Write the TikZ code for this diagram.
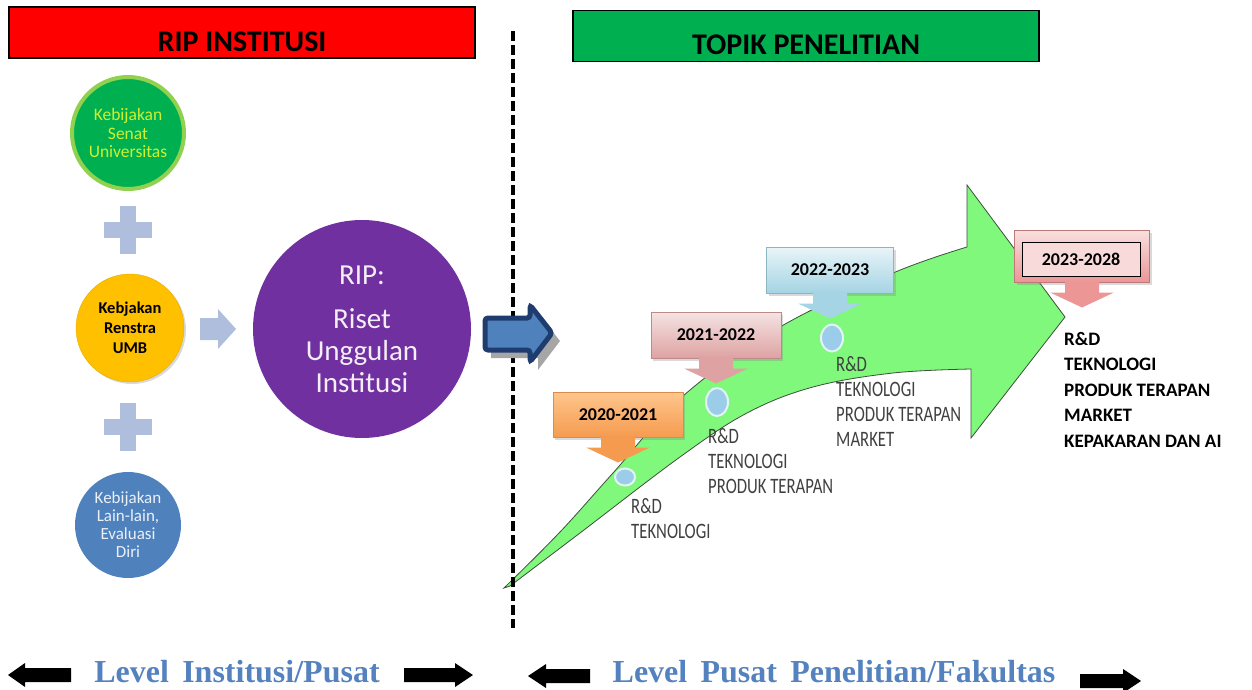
\documentclass[tikz,border=0pt]{standalone}
\usepackage{fontspec}
\setmainfont{Carlito}
\newfontfamily\condfont[FakeStretch=0.76]{Carlito}
\newfontfamily\levelfont{Liberation Serif}
\usetikzlibrary{positioning,calc,shapes.geometric,shadows}

\definecolor{ripred}{RGB}{255,0,0}
\definecolor{topikgreen}{RGB}{0,176,80}
\definecolor{senatgreen}{RGB}{0,176,80}
\definecolor{senatrim}{RGB}{146,208,80}
\definecolor{senattext}{RGB}{205,240,50}
\definecolor{renstra}{RGB}{255,192,0}
\definecolor{lainblue}{RGB}{79,129,189}
\definecolor{ripviolet}{RGB}{112,48,160}
\definecolor{plusblue}{RGB}{175,190,220}
\definecolor{navy}{RGB}{31,60,110}
\definecolor{bandgreen}{RGB}{128,248,124}
\definecolor{bandline}{RGB}{60,80,60}
\definecolor{dotblue}{RGB}{155,205,235}
\definecolor{dotrim}{RGB}{225,245,245}
\definecolor{topicgray}{RGB}{64,64,64}
\definecolor{levelblue}{RGB}{84,130,190}
\definecolor{arrorange}{RGB}{245,155,80}
\definecolor{arrpink}{RGB}{222,162,162}
\definecolor{arrblue}{RGB}{165,212,228}
\definecolor{arrred}{RGB}{236,150,150}

\begin{document}
\begin{tikzpicture}[x=1pt,y=-1pt,
    headbox/.style={rectangle,draw=black,line width=1.5pt,minimum width=466pt,minimum height=51pt,
      font=\fontsize{30}{36}\selectfont\bfseries,text height=40pt,text depth=2pt},
    policy/.style={circle,inner sep=0pt,align=center,font=\fontsize{17.5}{18.5}\selectfont},
    yearbox/.style={rectangle,line width=1pt,font=\fontsize{18}{20}\selectfont\bfseries,
      drop shadow={shadow xshift=2pt,shadow yshift=-3pt,opacity=.3}},
    dot/.style={ellipse,inner sep=0pt,fill=dotblue,draw=dotrim,line width=2pt},
    topic/.style={anchor=north west,inner sep=0pt,align=left,text=topicgray,
      font=\condfont\fontsize{22}{25}\selectfont},
    goal/.style={anchor=north west,inner sep=0pt,align=left,
      font=\fontsize{19}{25.5}\selectfont\bfseries},
    level/.style={anchor=base,text=levelblue,font=\levelfont\bfseries\fontsize{32}{38}\selectfont}]
\useasboundingbox (0,0) rectangle (1252,690);

% headers
\node (riphead) [headbox,fill=ripred] at (242,32.5) {RIP INSTITUSI};
\node (topikhead) [headbox,fill=topikgreen] at (806,36) {TOPIK PENELITIAN};

% policies
\node (senat) [policy,minimum size=112pt,fill=senatgreen,draw=senatrim,line width=4pt,
  text=senattext] at (128,133) {Kebijakan\\Senat\\Universitas};
\node (umb) [policy,minimum size=108pt,fill=renstra,draw=renstra!90!black,
  font=\fontsize{16.5}{20}\selectfont\bfseries,
  drop shadow={shadow xshift=2pt,shadow yshift=-2pt,opacity=.3}] at (130,328) {Kebjakan\\Renstra\\UMB};
\node (lain) [policy,minimum size=106pt,fill=lainblue,text=white!88!lainblue,
  font=\fontsize{17}{18}\selectfont] at (128,525) {Kebijakan\\Lain-lain,\\Evaluasi\\Diri};
\foreach \py in {230,427} {
  \fill[plusblue] (104,{\py-8}) rectangle (152,{\py+8});
  \fill[plusblue] (120,{\py-24}) rectangle (136,{\py+24});
}
\fill[plusblue] (200,318) -- (218,318) -- (218,309) -- (236,329) -- (218,349) -- (218,340) -- (200,340) -- cycle;

\node (rip) [policy,minimum size=218pt,fill=ripviolet,text=white!92!ripviolet,
  font=\fontsize{29}{32}\selectfont] at (362,329) {RIP:\\[12pt]Riset\\Unggulan\\Institusi};

% roadmap band
\filldraw[fill=bandgreen,draw=bandline,line width=.8pt]
  plot[smooth,tension=.6] coordinates {(504,588) (560,532) (613,473) (683,396) (780,327) (893,273) (967,247)}
  -- (967,185) -- (1065,317) -- (971,438)
  -- plot[smooth,tension=.6] coordinates {(971,369) (893,373) (813,387) (747,413) (680,457) (580,533) (510,586)}
  -- cycle;

% divider
\coordinate (divtop) at (513,31);
\coordinate (divbot) at (513,628);
\draw[line width=4pt,dash pattern=on 10pt off 4pt] (divtop) -- (divbot);

\fill[gray!70] (491,326) -- (538,326) -- (538,313) -- (560,341) -- (538,370) -- (538,358) -- (491,358) -- cycle;
\filldraw[fill=lainblue,draw=navy,line width=5pt,rounded corners=3pt]
  (485,318) -- (530,318) -- (530,305) -- (552,333) -- (530,362) -- (530,350) -- (485,350) -- cycle;

% milestones
\node (d20) [dot,minimum width=20pt,minimum height=17pt] at (625,477) {};
\node (d21) [dot,minimum width=22pt,minimum height=28pt] at (717,402) {};
\node (d22) [dot,minimum width=22pt,minimum height=27pt] at (832,338) {};

\node (t20) [topic] at (631,498) {R\&D\\TEKNOLOGI};
\node (t21) [topic] at (708,428) {R\&D\\TEKNOLOGI\\PRODUK TERAPAN};
\node (t22) [topic] at (836,356) {R\&D\\TEKNOLOGI\\PRODUK TERAPAN\\MARKET};
\node (t23) [goal] at (1064,332) {R\&D\\TEKNOLOGI\\PRODUK TERAPAN\\MARKET\\KEPAKARAN DAN AI};

\node (y20) [yearbox,minimum width=130pt,minimum height=45pt,draw=arrorange!90!black,
  top color=orange!45!white,bottom color=arrorange] at (618,414.5) {2020-2021};
\node (y21) [yearbox,minimum width=130pt,minimum height=46pt,draw=arrpink!85!black,
  top color=arrpink!30!white,bottom color=arrpink] at (716,335) {2021-2022};
\node (y22) [yearbox,minimum width=127pt,minimum height=46pt,draw=arrblue!85!black,
  top color=arrblue!25!white,bottom color=arrblue] at (830,270) {2022-2023};
\node (y23) [yearbox,minimum width=135pt,minimum height=52pt,draw=arrred!80!black,
  top color=arrred!30!white,bottom color=arrred] at (1082,256) {};
\node (y23in) [rectangle,draw=black,line width=1pt,minimum width=118pt,minimum height=34pt,
  fill=arrred!35!white,font=\fontsize{18}{20}\selectfont\bfseries] at (1081,259) {2023-2028};
\foreach \n/\c in {y20/arrorange,y21/arrpink,y22/arrblue,y23/arrred}
  \fill[\c] ($(\n.south)+(-17,-1)$) -- ++(0,11) -- ++(-15,0) -- ($(\n.south)+(0,25)$)
    -- ($(\n.south)+(32,10)$) -- ++(-15,0) -- ++(0,-11) -- cycle;

% levels
\node (lvinst) [level] at (237,682) {Level\, Institusi/Pusat};
\node (lvpusat) [level] at (834,682) {Level\, Pusat\, Penelitian/Fakultas};
\foreach \tip/\head/\tail/\ay in {8/25/71/675,473/455/404/675,528/546/590/676,1141/1123/1080/681}
  \fill (\tip,\ay) -- (\head,{\ay-12}) -- (\head,{\ay-7}) -- (\tail,{\ay-7})
    -- (\tail,{\ay+7}) -- (\head,{\ay+7}) -- (\head,{\ay+12}) -- cycle;
\end{tikzpicture}
\end{document}
